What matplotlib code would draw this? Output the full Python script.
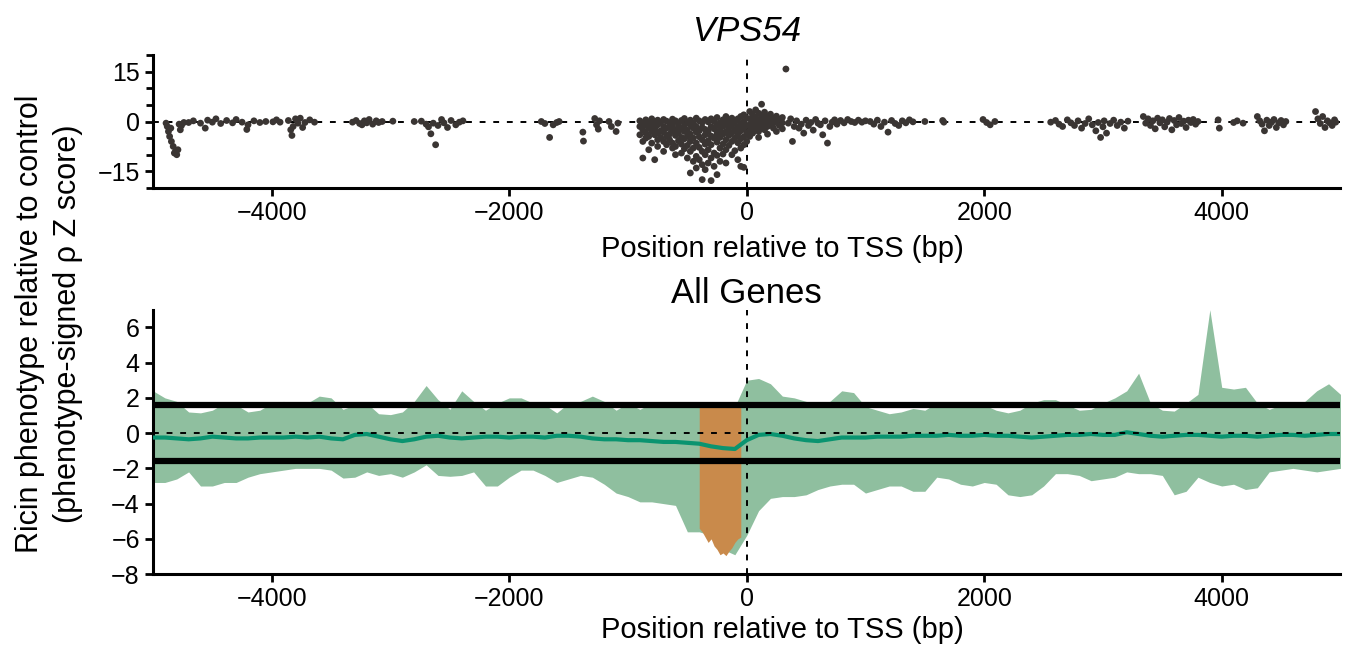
import numpy as np
import matplotlib
matplotlib.use('Agg')
import matplotlib.pyplot as plt
from matplotlib.ticker import MultipleLocator

plt.rcParams['font.family'] = ['Liberation Sans', 'DejaVu Sans']

# ---- top panel: VPS54 sgRNA phenotypes (position bp, z score) ----
edge_x = [-4890, -4880, -4870, -4860, -4850, -4845, -4830, -4820, -4810, -4800, -4790, -4780, -4770, -4760, -4740]
edge_y = [-0.5, -1.5, -3.0, -4.5, -2.0, -6.0, -7.5, -9.5, -9.0, -10.0, -8.5, -0.8, -2.5, -1.2, -0.3]

up_x = [-4700, -4660, -4600, -4560, -4540, -4500, -4470, -4430, -4380, -4330, -4300, -4250, -4210, -4200, -4150,
        -4100, -4050, -3990, -3960, -3930, -3860, -3840, -3830, -3820, -3800, -3780, -3760, -3740, -3720, -3680, -3640,
        -3320, -3290, -3260, -3240, -3220, -3200, -3180, -3150, -3120, -3100, -3070, -2980, -2800,
        -2740, -2700, -2680, -2660, -2640, -2620, -2600, -2570, -2550, -2520, -2490, -2450, -2420, -2390,
        -1730, -1700, -1660, -1630, -1600, -1580,
        -1380, -1375, -1280, -1265, -1250, -1240, -1160, -1140, -1100, -1085]
up_y = [-0.3, 0.2, -0.5, -2.0, 0.4, -0.2, 0.8, -0.6, 0.3, -0.4, 0.6, -0.2, -2.4, -1.0, 0.2,
        -0.3, 0.0, -0.1, 0.5, -0.2, 0.3, -2.5, -4.2, -1.5, 0.8, -0.5, 1.0, -1.8, -0.3, 0.5, -0.2,
        -0.2, 0.3, -0.6, -1.0, 0.2, -0.4, 0.6, -0.8, 0.2, -0.3, 0.0, 0.1, 0.0,
        0.1, -0.8, -1.6, -3.7, -0.5, -7.0, -1.2, 0.6, -0.4, -1.8, 0.3, -1.0, -0.2, 0.2,
        0.0, -0.6, -4.8, -1.0, -0.3, 0.0,
        -3.2, -5.9, 0.9, -1.0, -2.3, 0.2, 0.0, -1.5, -3.0, -0.5]

# dense cluster just upstream of the TSS: (position, [scores])
core_pos = [-900, -875, -850, -825, -800, -775, -750, -725, -700, -675, -650, -625, -600, -575, -550, -525,
            -500, -475, -450, -425, -400, -375, -350, -325, -300, -275, -250, -225, -200, -175, -150, -125,
            -100, -75, -50, -25, 0,
            25, 50, 75, 100, 125, 150, 175, 200, 225, 250, 275, 300]
core_vals = [[0.2, -1.5, -4.0], [-0.5, -2.5, -6.0, -11.0], [0.5, -1.0, -3.5, -5.0], [-0.3, -2.0, -4.5, -8.5],
             [0.8, -1.2, -3.0, -6.5], [0.0, -2.2, -4.0, -11.5], [0.4, -1.0, -3.5, -5.5, -7.5], [-0.2, -2.8, -4.8],
             [0.6, -1.5, -3.2, -6.0, -9.0], [0.1, -2.0, -4.5, -7.0], [-0.4, -1.8, -3.8, -5.5],
             [0.7, -1.0, -2.8, -6.5, -8.0], [0.2, -2.5, -4.2, -7.5, -10.0], [-0.6, -1.5, -3.5, -5.8],
             [0.3, -2.2, -4.8, -6.8, -9.5], [0.9, -1.2, -3.0, -5.2, -8.2], [-0.2, -2.6, -4.5, -7.2, -11.0],
             [0.4, -1.0, -3.8, -6.0, -9.0, -15.5], [-0.5, -2.0, -5.0, -8.0, -12.0],
             [1.0, -1.5, -3.2, -6.5, -10.5, -14.0], [0.2, -2.8, -4.6, -7.8, -11.5],
             [-0.3, -1.8, -5.5, -9.0, -13.0, -17.5], [0.6, -2.4, -4.0, -6.8, -10.0, -14.5],
             [-0.1, -3.0, -5.8, -8.5, -12.5], [0.8, -1.6, -4.4, -7.0, -11.0, -17.8], [0.0, -2.2, -5.0, -9.5, -13.5],
             [1.2, -1.2, -3.6, -6.2, -10.2, -16.0], [-0.4, -2.6, -4.8, -8.0, -12.0], [0.5, -1.4, -3.8, -6.8, -9.8],
             [1.5, -0.8, -3.0, -5.5, -8.5, -12.5], [0.3, -2.0, -4.2, -7.2], [1.0, -1.0, -3.4, -6.0, -10.0],
             [-0.2, -2.4, -5.0, -8.8], [0.8, -1.6, -3.8, -6.4, -11.5], [1.5, -0.6, -2.8, -5.2, -8.0, -13.5],
             [2.0, 0.0, -2.0, -4.6, -7.0, -13.8], [1.0, -1.2, -3.4, -6.0],
             [3.0, 0.8, -1.0, -2.8, -4.5], [2.0, 0.2, -1.6, -3.5], [3.5, 1.2, -0.5, -2.2], [2.5, 0.5, -1.2, -3.0, -4.8],
             [5.2, 1.8, 0.0, -1.8], [2.8, 0.8, -0.8, -2.5], [1.5, -0.2, -1.5, -3.8], [2.2, 0.4, -1.0],
             [1.0, -0.5, -2.0], [1.6, 0.0, -3.0], [0.6, -1.2], [1.2, -0.4, -2.2]]

down_x = [330,
          350, 370, 385, 400, 420, 440, 460, 480, 500, 520, 540, 560, 580, 600, 620, 640, 660, 680, 700, 720,
          740, 760, 790, 820, 850, 880, 910, 940, 970, 1000,
          1040, 1070, 1100, 1130, 1160, 1190, 1220, 1250, 1280, 1310, 1340, 1370, 1400,
          1500, 1650, 1660, 1990, 2020, 2050, 2090,
          2560, 2600, 2630, 2660, 2700, 2730, 2760, 2790, 2820, 2850, 2880, 2910, 2940, 2960, 2980, 3000, 3010,
          3030, 3060, 3090, 3120, 3150, 3180, 3210,
          3340, 3360, 3380, 3400, 3420, 3440, 3460, 3480, 3500, 3520, 3540, 3560, 3580, 3600, 3620, 3640, 3660,
          3680, 3700, 3720, 3740, 3760, 3780, 3800,
          3970, 3980, 4100, 4130, 4180,
          4300, 4320, 4340, 4360, 4380, 4400, 4420, 4440, 4460, 4480, 4500, 4520, 4540,
          4790, 4810, 4830, 4850, 4870, 4890, 4910, 4930, 4950, 4960]
down_y = [15.8,
          -0.5, 0.8, -6.0, -1.5, 0.2, -2.0, -0.8, -3.5, 0.4, -1.2, -0.3, -2.6, 0.6, -0.5, -1.0, -4.0, 0.2, -6.5,
          -1.5, -0.2, 0.5, -0.8, 0.3, -0.4, 0.6, 0.0, -0.3, 0.4, -0.2, 0.2,
          0.0, -0.8, 0.4, -1.5, -0.2, -3.2, 0.3, -0.6, -1.2, 0.2, -0.4, 0.5, -0.1,
          0.0, 0.3, -0.2, 0.6, -0.3, -1.0, 0.0,
          -0.2, 0.3, -0.8, -1.5, 0.5, -0.4, -1.2, 0.2, -2.0, -0.6, 0.8, -1.0, -2.8, -0.3, -4.8, -1.6, 0.2,
          -3.5, -0.6, 0.4, -1.2, -0.2, -2.0, 0.1,
          1.5, -0.5, 0.8, -1.2, 0.2, -2.2, 1.0, -0.4, 0.5, -1.6, -0.2, 0.9, -2.5, 0.3, -1.0, 1.2, -0.6,
          0.1, -1.8, 0.4, -0.3, 0.6, -0.8, 0.0,
          0.5, -2.0, -0.3, 0.2, -0.5,
          1.5, 0.2, -0.8, -2.8, 0.4, -1.2, -0.2, 0.6, -1.8, -0.4, 0.3, -1.0, 0.0,
          3.0, 0.8, -0.6, 1.5, -1.8, 0.2, -0.4, -1.2, 0.5, -0.2]

# ---- bottom panel: all genes, 100 bp bins from -5000 to 5000 ----
bins = list(range(-5000, 5001, 100))
upper = [2.4, 2.0, 1.8, 1.2, 1.15, 1.3, 1.7, 1.6, 1.2, 1.3,
         1.7, 1.8, 1.6, 1.7, 2.1, 2.0, 1.35, 1.6, 1.7, 1.1,
         1.05, 1.2, 1.8, 2.7, 1.9, 1.35, 2.4, 1.8, 1.3, 1.7,
         2.0, 2.0, 1.7, 1.6, 1.15, 1.7, 1.8, 2.1, 1.8, 1.3,
         1.7, 1.35, 1.7, 1.6, 1.6, 1.6, 1.55, 1.5, 1.5, 1.5,
         3.0, 3.1, 2.8, 2.1, 2.0, 1.8, 1.7, 1.8, 2.4, 2.3,
         1.5, 1.3, 1.1, 1.2, 1.4, 1.3, 1.7, 1.6, 1.7, 1.5,
         1.6, 1.3, 1.15, 1.3, 1.7, 1.9, 1.9, 1.6, 1.3, 1.35,
         1.7, 2.0, 2.4, 3.4, 1.7, 1.3, 1.25, 1.7, 2.2, 7.0,
         2.6, 2.5, 2.6, 1.7, 1.35, 1.6, 1.5, 1.8, 2.4, 2.8,
         2.2]
lower = [-2.8, -2.8, -2.6, -2.2, -3.0, -3.0, -2.8, -2.8, -2.5, -2.3,
         -2.2, -2.1, -2.0, -2.0, -2.0, -2.1, -2.55, -2.5, -2.2, -2.4,
         -2.3, -2.5, -2.2, -1.8, -2.4, -2.45, -2.4, -2.2, -3.0, -3.0,
         -2.5, -2.1, -2.1, -2.4, -2.8, -2.6, -2.4, -2.5, -2.9, -3.4,
         -3.6, -3.9, -3.9, -4.0, -4.1, -5.6, -5.6, -5.8, -6.6, -6.9,
         -5.8, -4.4, -3.7, -3.6, -3.6, -3.5, -3.2, -3.0, -2.9, -2.9,
         -3.4, -3.2, -3.0, -3.0, -3.3, -3.3, -2.5, -2.6, -2.9, -3.0,
         -2.8, -2.9, -3.5, -3.6, -3.5, -3.0, -2.3, -2.3, -2.4, -2.7,
         -2.6, -2.5, -2.2, -2.3, -2.3, -2.4, -3.5, -3.3, -2.5, -2.8,
         -3.0, -2.9, -3.2, -3.1, -2.2, -2.1, -2.0, -2.1, -2.2, -2.1,
         -2.0]
mean_z = [-0.25, -0.25, -0.3, -0.35, -0.3, -0.2, -0.25, -0.3, -0.3, -0.25,
          -0.25, -0.25, -0.2, -0.25, -0.2, -0.3, -0.35, -0.1, -0.05, -0.2,
          -0.35, -0.45, -0.35, -0.2, -0.15, -0.25, -0.3, -0.25, -0.2, -0.2,
          -0.25, -0.2, -0.2, -0.25, -0.15, -0.15, -0.2, -0.3, -0.35, -0.35,
          -0.4, -0.4, -0.45, -0.5, -0.5, -0.55, -0.6, -0.75, -0.85, -0.9,
          -0.4, -0.1, -0.05, -0.15, -0.3, -0.4, -0.45, -0.35, -0.25, -0.25,
          -0.25, -0.2, -0.2, -0.2, -0.15, -0.15, -0.15, -0.1, -0.15, -0.15,
          -0.1, -0.15, -0.15, -0.2, -0.25, -0.2, -0.15, -0.1, -0.1, -0.05,
          -0.1, -0.1, 0.05, -0.05, -0.15, -0.2, -0.15, -0.1, -0.1, -0.15,
          -0.2, -0.15, -0.15, -0.2, -0.15, -0.1, -0.1, -0.15, -0.1, -0.05,
          -0.05]

# significant window (orange)
sig_x = [-400, -375, -350, -325, -300, -275, -250, -225, -200, -175, -150, -125, -100, -75, -50]
sig_lo = [-5.4, -5.6, -5.9, -6.2, -6.0, -6.4, -6.6, -6.9, -6.8, -6.95, -6.7, -6.5, -6.2, -6.0, -5.9]
sig_hi = [1.5] * len(sig_x)

thresh = 1.6

green_fill = '#8fbf9f'
green_line = '#0a9470'
orange = '#c98a4b'
dot_col = '#3a3533'

fig = plt.figure(figsize=(13.54, 6.48), dpi=100)
ax1 = fig.add_axes([0.113, 0.710, 0.877, 0.205])
ax2 = fig.add_axes([0.113, 0.114, 0.877, 0.408])

# Top panel
core_x = [p for p, v in zip(core_pos, core_vals) for _ in v]
core_y = [y for v in core_vals for y in v]
all_x = edge_x + up_x + core_x + down_x
all_y = edge_y + up_y + core_y + down_y
ax1.axhline(0, color='black', lw=1.4, ls=(0, (3, 4)), zorder=1)
ax1.axvline(0, color='black', lw=1.4, ls=(0, (3, 4)), zorder=1)
ax1.scatter(all_x, all_y, s=24, color=dot_col, edgecolors='none', zorder=3)
ax1.set_xlim(-5000, 5000)
ax1.set_ylim(-20, 20)
ax1.set_yticks([-15, 0, 15])
ax1.yaxis.set_minor_locator(MultipleLocator(5))
ax1.set_title('VPS54', fontsize=25, style='italic', pad=10)
ax1.set_xlabel('Position relative to TSS (bp)', fontsize=21)

# Bottom panel
ax2.fill_between(bins, lower, upper, color=green_fill, lw=0, zorder=1)
ax2.fill_between(sig_x, sig_lo, sig_hi, color=orange, lw=0, zorder=2)
ax2.plot(bins, mean_z, color=green_line, lw=3, zorder=3)
ax2.axhline(thresh, color='black', lw=4.5, zorder=4)
ax2.axhline(-thresh, color='black', lw=4.5, zorder=4)
ax2.axhline(0, color='black', lw=1.4, ls=(0, (3, 4)), zorder=5)
ax2.axvline(0, color='black', lw=1.4, ls=(0, (3, 4)), zorder=5)
ax2.set_xlim(-5000, 5000)
ax2.set_ylim(-8, 7)
ax2.set_yticks(range(-8, 7, 2))
ax2.set_title('All Genes', fontsize=25, pad=2)
ax2.set_xlabel('Position relative to TSS (bp)', fontsize=21)

for ax in (ax1, ax2):
    ax.set_xticks([-4000, -2000, 0, 2000, 4000])
    ax.xaxis.set_label_coords(0.53, -0.355 if ax is ax1 else -0.16)
    for side in ('top', 'right'):
        ax.spines[side].set_visible(False)
    for side in ('left', 'bottom'):
        ax.spines[side].set_linewidth(2.2)
    ax.tick_params(axis='both', which='major', labelsize=18, width=2, length=6)
    ax.tick_params(axis='y', which='minor', width=2, length=5)

fig.text(0.036, 0.50, 'Ricin phenotype relative to control\n(phenotype-signed \u03c1 Z score)',
         rotation=90, ha='center', va='center', multialignment='center', fontsize=22, linespacing=1.35)

fig.savefig('out.png', dpi=100)
